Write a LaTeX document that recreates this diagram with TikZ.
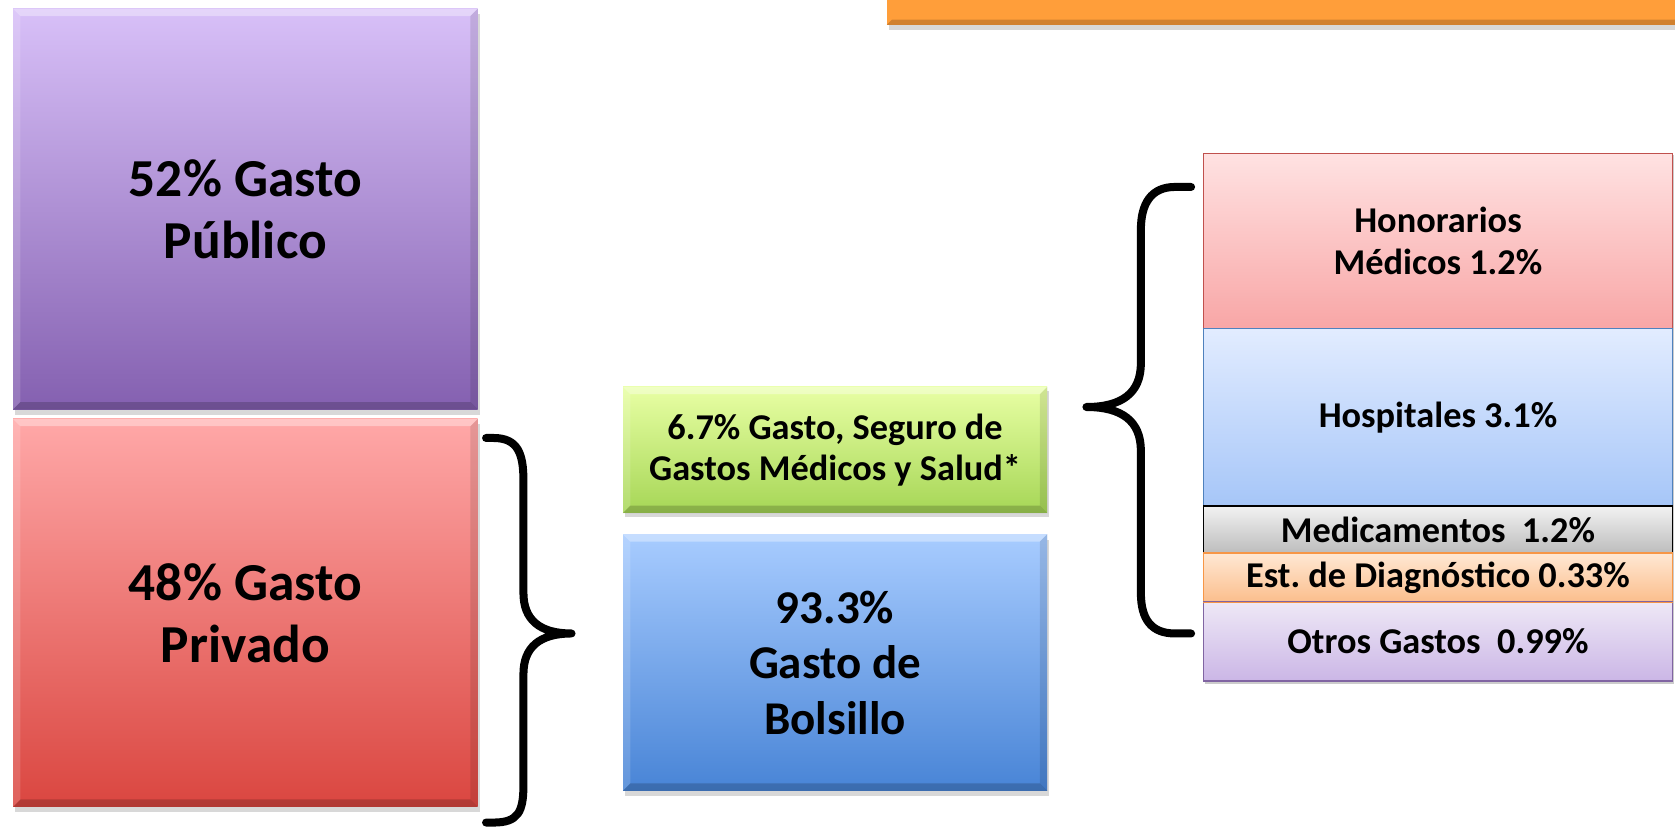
\documentclass[tikz,border=0pt]{standalone}
\usepackage{fontspec}
\setmainfont{Carlito}
\frenchspacing
\usetikzlibrary{shadows,calc}
\definecolor{purpT}{HTML}{D8C0F8}
\definecolor{purpB}{HTML}{8460B0}
\definecolor{redT}{HTML}{FFA8A8}
\definecolor{redB}{HTML}{DA4640}
\definecolor{grnT}{HTML}{E8FFA4}
\definecolor{grnB}{HTML}{A6D656}
\definecolor{bluT}{HTML}{A8CCFF}
\definecolor{bluB}{HTML}{4884D6}
\definecolor{orgBar}{HTML}{FF9E3A}
\definecolor{honT}{HTML}{FFE2E2}
\definecolor{honB}{HTML}{F8A6A6}
\definecolor{honD}{HTML}{C0504D}
\definecolor{hosT}{HTML}{E2ECFF}
\definecolor{hosB}{HTML}{A6C6F8}
\definecolor{hosD}{HTML}{4F81BD}
\definecolor{medT}{HTML}{F2F2F2}
\definecolor{medB}{HTML}{BDBDBD}
\definecolor{estT}{HTML}{FFE8D4}
\definecolor{estB}{HTML}{FBBE8C}
\definecolor{estD}{HTML}{F79646}
\definecolor{otrT}{HTML}{EEE8F6}
\definecolor{otrB}{HTML}{CBB6E6}
\definecolor{otrD}{HTML}{8064A2}
\tikzset{
  bigbox/.style={anchor=north west, inner sep=0pt, align=center,
    font=\bfseries\fontsize{50}{58}\selectfont,
    drop shadow={shadow xshift=2pt, shadow yshift=-5pt, opacity=0.3}},
  midbox/.style={anchor=north west, inner sep=0pt, align=center,
    font=\bfseries\fontsize{34}{39}\selectfont,
    drop shadow={shadow xshift=2pt, shadow yshift=-4pt, opacity=0.3}},
  stackbox/.style={anchor=north west, inner sep=0pt, align=center,
    font=\bfseries\fontsize{34}{40}\selectfont, line width=1.2pt},
  brace/.style={line width=7.5pt, line cap=round, line join=round}
}
\newcommand\bevel[1]{%
  \fill[white,opacity=0.35] (#1.north west) -- (#1.north east) -- ($(#1.north east)+(-7,7)$) -- ($(#1.north west)+(7,7)$) -- cycle;
  \fill[black,opacity=0.18] (#1.south west) -- (#1.south east) -- ($(#1.south east)+(-7,-7)$) -- ($(#1.south west)+(7,-7)$) -- cycle;
  \fill[white,opacity=0.15] (#1.north west) -- ($(#1.north west)+(7,7)$) -- ($(#1.south west)+(7,-7)$) -- (#1.south west) -- cycle;
  \fill[black,opacity=0.10] (#1.north east) -- ($(#1.north east)+(-7,7)$) -- ($(#1.south east)+(-7,-7)$) -- (#1.south east) -- cycle;}
\begin{document}
\begin{tikzpicture}[x=1pt,y=-1pt]
\useasboundingbox[fill=white] (0,0) rectangle (1568,774);
% top orange bar
\node[anchor=north west, inner sep=0pt, minimum width=760pt, minimum height=25pt,
  fill=orgBar, drop shadow={shadow xshift=2pt, shadow yshift=-5pt, opacity=0.3}] (bar) at (830,-2) {};
\fill[black,opacity=0.18] (bar.south west) -- (bar.south east) -- ($(bar.south east)+(0,-5)$) -- ($(bar.south west)+(5,-5)$) -- cycle;
% left column
\node[bigbox, minimum width=435pt, minimum height=375pt, top color=purpT, bottom color=purpB] (pub) at (12,8) {52\% Gasto\\Público};
\bevel{pub}
\node[bigbox, minimum width=435pt, minimum height=363pt, top color=redT, bottom color=redB] (priv) at (12,392) {48\% Gasto\\Privado};
\bevel{priv}
% middle column
\node[midbox, minimum width=397pt, minimum height=118pt, top color=grnT, bottom color=grnB] (seg) at (583,362) {6.7\% Gasto, Seguro de\\Gastos Médicos y Salud*};
\bevel{seg}
\node[bigbox, font=\bfseries\fontsize{44}{52}\selectfont, minimum width=397pt, minimum height=240pt, top color=bluT, bottom color=bluB] (bol) at (583,500) {93.3\%\\Gasto de\\Bolsillo};
\bevel{bol}
% right stack
\fill[black,opacity=0.2] (1128,145) rectangle (1567,640);
\node[stackbox, minimum width=439pt, minimum height=164pt, top color=honT, bottom color=honB, draw=honD] (hon) at (1126,143) {Honorarios\\Médicos 1.2\%};
\node[stackbox, minimum width=439pt, minimum height=166pt, top color=hosT, bottom color=hosB, draw=hosD] (hos) at (1126,307) {Hospitales 3.1\%};
\node[stackbox, minimum width=439pt, minimum height=44pt, top color=medT, bottom color=medB, draw=black] (med) at (1126,473) {Medicamentos\ \ 1.2\%};
\node[stackbox, minimum width=439pt, minimum height=46pt, top color=estT, bottom color=estB, draw=estD] (est) at (1126,517) {Est. de Diagnóstico 0.33\%};
\node[stackbox, minimum width=439pt, minimum height=74pt, top color=otrT, bottom color=otrB, draw=otrD] (otr) at (1126,563) {Otros Gastos\ \ 0.99\%};
\draw[estD, line width=1.2pt] (est.south west) -- (est.south east);
% brace for private spending
\coordinate (b1top) at (455,410);
\coordinate (b1tip) at (535,593);
\coordinate (b1bot) at (455,770);
\draw[brace] (b1top) -- (462,410) .. controls (485,410) and (490,425) .. (490,450)
  -- (490,555) .. controls (490,580) and (505,593) .. (b1tip)
  .. controls (505,593) and (490,606) .. (490,631)
  -- (490,735) .. controls (490,760) and (485,770) .. (462,770) -- (b1bot);
% brace for insurance breakdown
\coordinate (b2top) at (1115,175);
\coordinate (b2tip) at (1017,381);
\coordinate (b2bot) at (1115,593);
\draw[brace] (b2top) -- (1100,175) .. controls (1078,175) and (1068,190) .. (1068,215)
  -- (1068,340) .. controls (1068,368) and (1050,381) .. (b2tip)
  .. controls (1050,381) and (1068,394) .. (1068,422)
  -- (1068,555) .. controls (1068,580) and (1078,593) .. (1100,593) -- (b2bot);
\end{tikzpicture}
\end{document}
